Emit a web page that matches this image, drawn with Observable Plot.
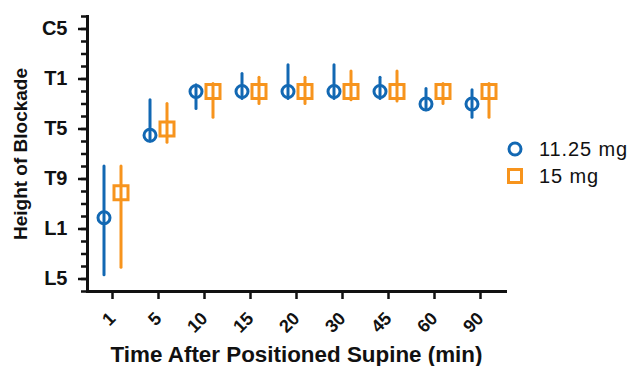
<!DOCTYPE html>
<html>
<head>
<meta charset="utf-8">
<script src="https://cdn.jsdelivr.net/npm/d3@7"></script>
<script src="https://cdn.jsdelivr.net/npm/@observablehq/plot@0.6"></script>
<style>
  body { margin: 0; background: #fff; }
  #wrap { position: relative; width: 634px; height: 366px; font-family: "Liberation Sans", Arial, Helvetica, sans-serif; }
  #chart svg { display: block; }
  g[aria-label="x-axis label"] text, g[aria-label="x-axis label"] { font-size: 22.4px; font-weight: bold; }
  g[aria-label="y-axis label"] text, g[aria-label="y-axis label"] { font-size: 19px; font-weight: bold; }
  g[aria-label="y-axis tick label"], g[aria-label="y-axis tick label"] text { font-size: 20px; font-weight: bold; }
  g[aria-label="x-axis tick label"], g[aria-label="x-axis tick label"] text { font-size: 18px; font-weight: bold; }
  .leg-row { position: absolute; left: 505px; height: 24px; display: flex; align-items: center; font-size: 20px; letter-spacing: 0.9px; color: #111; white-space: nowrap; }
  .leg-row svg { margin-right: 14px; }
</style>
</head>
<body>
<div id="wrap"><div id="chart"></div><div id="legend"></div></div>
<script>
// Time points (x categories)
const times = ["1", "5", "10", "15", "20", "30", "45", "60", "90"];
// Spinal level tick labels and their index on the level scale (C5 = 0 ... L5 = 20)
const levelNames = ["C5", "T1", "T5", "T9", "L1", "L5"];
const levelTicks = [0, 4, 8, 12, 16, 20];
const minorTicks = d3.range(-1, 22);

// Series: 11.25 mg (blue circles)
const doseA = "11.25 mg";
const aMid  = [15.1, 8.5, 5.0, 5.0, 5.0, 5.0, 5.0, 6.0, 6.0];
const aTop  = [11.0, 5.7, 4.5, 3.6, 2.9, 2.9, 3.9, 4.8, 4.9];
const aBot  = [19.7, 9.0, 6.4, 5.6, 5.6, 5.6, 5.6, 6.5, 7.1];
// Series: 15 mg (orange squares)
const doseB = "15 mg";
const bMid  = [13.1, 8.0, 5.0, 5.0, 5.0, 5.0, 5.0, 5.0, 5.0];
const bTop  = [11.0, 6.0, 4.4, 3.9, 3.9, 3.4, 3.4, 4.4, 4.4];
const bBot  = [19.1, 9.1, 7.1, 6.0, 6.0, 5.7, 5.8, 6.0, 7.1];

const blue = "#1268b3";
const orange = "#f7941d";

const rowsA = times.map((t, i) => ({time: t, mid: aMid[i], top: aTop[i], bot: aBot[i]}));
const rowsB = times.map((t, i) => ({time: t, mid: bMid[i], top: bTop[i], bot: bBot[i]}));

const chart = Plot.plot({
  width: 634,
  height: 366,
  marginLeft: 87,
  marginRight: 129,
  marginTop: 16,
  marginBottom: 75,
  style: {fontFamily: "'Liberation Sans', Arial, Helvetica, sans-serif", color: "#111", background: "#fff", overflow: "visible"},
  x: {type: "point", domain: times, padding: 0.5},
  y: {domain: [-1, 21], reverse: true},
  marks: [
    Plot.axisY(minorTicks, {tickSize: 6, tickFormat: () => "", label: null, strokeWidth: 2.5}),
    Plot.axisY(levelTicks, {
      tickSize: 9, tickPadding: 11, strokeWidth: 2.5,
      tickFormat: d => levelNames[levelTicks.indexOf(d)],
      label: "Height of Blockade", labelAnchor: "center", labelArrow: "none", labelOffset: 74
    }),
    Plot.axisX({
      tickSize: 8, tickPadding: 16, strokeWidth: 2.5, tickRotate: -45,
      label: "Time After Positioned Supine (min)", labelAnchor: "center", labelArrow: "none", labelOffset: 70
    }),
    Plot.frame({anchor: "left", strokeWidth: 3}),
    Plot.frame({anchor: "bottom", strokeWidth: 3}),
    Plot.ruleX(rowsA, {x: "time", y1: "top", y2: "bot", dx: -8.5, stroke: blue, strokeWidth: 3, strokeLinecap: "round"}),
    Plot.ruleX(rowsB, {x: "time", y1: "top", y2: "bot", dx: 8.5, stroke: orange, strokeWidth: 3, strokeLinecap: "round"}),
    Plot.dot(rowsA, {x: "time", y: "mid", dx: -8.5, r: 6, symbol: "circle", stroke: blue, strokeWidth: 3, fill: "none"}),
    Plot.dot(rowsB, {x: "time", y: "mid", dx: 8.5, r: 7.9, symbol: "square", stroke: orange, strokeWidth: 3, fill: "none"})
  ]
});
document.getElementById("chart").append(chart);

// Legend (right side)
const legend = document.getElementById("legend");
const legItems = [
  {name: doseA, color: blue, shape: "circle", top: 137},
  {name: doseB, color: orange, shape: "square", top: 164}
];
for (const it of legItems) {
  const row = document.createElement("div");
  row.className = "leg-row";
  row.style.top = it.top + "px";
  const sw = it.shape === "circle"
    ? `<circle cx="10" cy="12" r="6" fill="none" stroke="${it.color}" stroke-width="3"/>`
    : `<rect x="3.5" y="5.5" width="13" height="13" fill="none" stroke="${it.color}" stroke-width="3"/>`;
  row.innerHTML = `<svg width="20" height="24">${sw}</svg><span>${it.name}</span>`;
  legend.append(row);
}
</script>
</body>
</html>
